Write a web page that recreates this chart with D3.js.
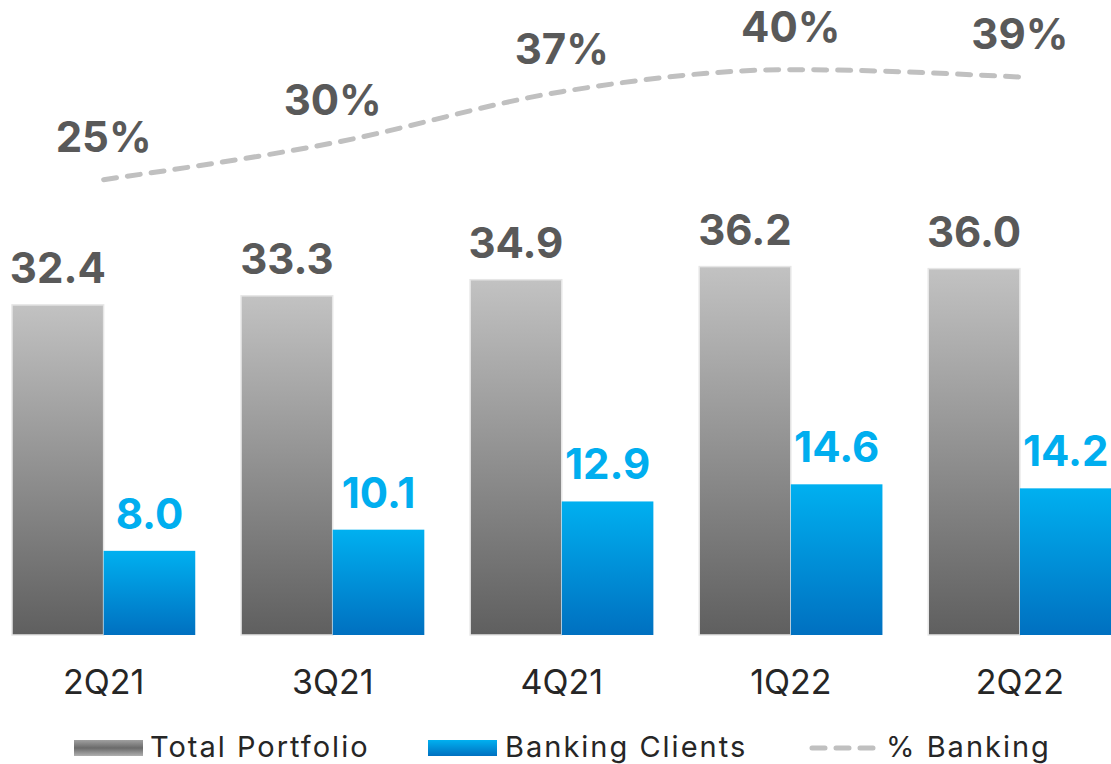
<!DOCTYPE html>
<html>
<head>
<meta charset="utf-8">
<script src="https://cdn.jsdelivr.net/npm/d3@7/dist/d3.min.js"></script>
<style>
  html, body { margin: 0; padding: 0; background: #fff; }
  svg { display: block; font-family: Inter, "Open Sans", sans-serif; }
</style>
</head>
<body>
<svg id="chart" width="1111" height="764"></svg>
<script>
// Quarterly figures
const quarters = ["2Q21", "3Q21", "4Q21", "1Q22", "2Q22"];
const totalPortfolio = [32.4, 33.3, 34.9, 36.2, 36.0];
const bankingClients = [8.0, 10.1, 12.9, 14.6, 14.2];
const pctBanking = [25, 30, 37, 40, 39];
const seriesNames = ["Total Portfolio", "Banking Clients", "% Banking"];

const svg = d3.select("#chart");

const defs = svg.append("defs");
const grayGrad = defs.append("linearGradient").attr("id", "gGray")
  .attr("x1", 0).attr("y1", 0).attr("x2", 0).attr("y2", 1);
grayGrad.append("stop").attr("offset", "0%").attr("stop-color", "#c2c2c2");
grayGrad.append("stop").attr("offset", "100%").attr("stop-color", "#5f5f5f");
const blueGrad = defs.append("linearGradient").attr("id", "gBlue")
  .attr("x1", 0).attr("y1", 0).attr("x2", 0).attr("y2", 1);
blueGrad.append("stop").attr("offset", "0%").attr("stop-color", "#00b0f0");
blueGrad.append("stop").attr("offset", "100%").attr("stop-color", "#0070c0");
const legGray = defs.append("linearGradient").attr("id", "gLegGray")
  .attr("x1", 0).attr("y1", 0).attr("x2", 0).attr("y2", 1);
legGray.append("stop").attr("offset", "0%").attr("stop-color", "#a0a0a0");
legGray.append("stop").attr("offset", "50%").attr("stop-color", "#6a6a6a");
legGray.append("stop").attr("offset", "100%").attr("stop-color", "#b0b0b0");

// Scales
const x0 = d3.scaleBand().domain(quarters).range([12, 1111.5]).paddingInner(0.2).paddingOuter(0);
const x1 = d3.scaleBand().domain(["total", "bank"]).range([0, x0.bandwidth()]);
const y = d3.scaleLinear().domain([-0.35, 62.65]).range([635, 0]);
const y2 = d3.scaleLinear().domain([0, 49.5]).range([363, 0]);
const base = y.domain()[0];

const groups = svg.append("g").selectAll("g").data(quarters).join("g")
  .attr("transform", d => `translate(${x0(d)},0)`);

// Total portfolio bars
groups.append("rect")
  .attr("x", x1("total"))
  .attr("width", x1.bandwidth())
  .attr("y", (d, i) => y(totalPortfolio[i]))
  .attr("height", (d, i) => y(base) - y(totalPortfolio[i]))
  .attr("fill", "url(#gGray)")
  .attr("stroke", "#e6e6e6").attr("stroke-width", 1.5);

// Banking clients bars
groups.append("rect")
  .attr("x", x1("bank"))
  .attr("width", x1.bandwidth())
  .attr("y", (d, i) => y(bankingClients[i]))
  .attr("height", (d, i) => y(base) - y(bankingClients[i]))
  .attr("fill", "url(#gBlue)");

// Value labels
groups.append("text")
  .attr("x", x1("total") + x1.bandwidth() / 2)
  .attr("y", (d, i) => y(totalPortfolio[i]) - 22)
  .attr("text-anchor", "middle")
  .attr("font-size", 42).attr("font-weight", 700).attr("fill", "#595959")
  .text((d, i) => totalPortfolio[i].toFixed(1));

groups.append("text")
  .attr("x", x1("bank") + x1.bandwidth() / 2)
  .attr("y", (d, i) => y(bankingClients[i]) - 22)
  .attr("text-anchor", "middle")
  .attr("font-size", 42).attr("font-weight", 700).attr("fill", "#00aeef")
  .text((d, i) => bankingClients[i].toFixed(1));

// Category axis labels
groups.append("text")
  .attr("x", x0.bandwidth() / 2)
  .attr("y", 694)
  .attr("text-anchor", "middle")
  .attr("font-size", 34).attr("fill", "#262626")
  .text(d => d);

// % Banking line
const cx = d => x0(d) + x0.bandwidth() / 2;
const line = d3.line()
  .x((d, i) => cx(quarters[i]))
  .y(d => y2(d))
  .curve(d3.curveMonotoneX);
svg.append("path")
  .datum(pctBanking)
  .attr("d", line)
  .attr("fill", "none")
  .attr("stroke", "#c0c0c0")
  .attr("stroke-width", 5)
  .attr("stroke-linecap", "round")
  .attr("stroke-dasharray", "13 11");

svg.append("g").selectAll("text").data(pctBanking).join("text")
  .attr("x", (d, i) => cx(quarters[i]))
  .attr("y", d => y2(d) - 28)
  .attr("text-anchor", "middle")
  .attr("font-size", 42).attr("font-weight", 700).attr("fill", "#595959")
  .text(d => d + "%");

// Legend
const leg = svg.append("g").attr("font-size", 29).attr("fill", "#262626")
  .attr("letter-spacing", 2);
leg.append("rect").attr("x", 74).attr("y", 740).attr("width", 69).attr("height", 16)
  .attr("fill", "url(#gLegGray)");
leg.append("text").attr("x", 150).attr("y", 757).text(seriesNames[0]);
leg.append("rect").attr("x", 428).attr("y", 740).attr("width", 69).attr("height", 16)
  .attr("fill", "url(#gBlue)");
leg.append("text").attr("x", 505).attr("y", 757).text(seriesNames[1]);
leg.append("line").attr("x1", 812).attr("x2", 874).attr("y1", 748).attr("y2", 748)
  .attr("stroke", "#c0c0c0").attr("stroke-width", 5)
  .attr("stroke-linecap", "round").attr("stroke-dasharray", "13 11");
leg.append("text").attr("x", 886).attr("y", 757).text(seriesNames[2]);
</script>
</body>
</html>
